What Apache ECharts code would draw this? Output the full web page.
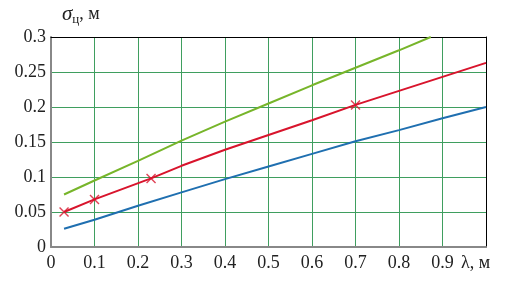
<!DOCTYPE html>
<html>
<head>
<meta charset="utf-8">
<script src="https://cdn.jsdelivr.net/npm/echarts@6/dist/echarts.min.js"></script>
<style>
  html, body { margin: 0; padding: 0; background: #fff; }
  #main { width: 505px; height: 286px; }
</style>
</head>
<body>
<div id="main"></div>
<script>
// данные
var blueX = [0.03, 0.1, 0.2, 0.3, 0.4, 0.5, 0.6, 0.7, 0.8, 0.9, 1.0];
var blueY = [0.026, 0.039, 0.059, 0.078, 0.097, 0.115, 0.133, 0.151, 0.167, 0.184, 0.2];
var redX = [0.03, 0.1, 0.23, 0.3, 0.4, 0.5, 0.6, 0.7, 0.8, 0.9, 1.0];
var redY = [0.05, 0.068, 0.098, 0.116, 0.139, 0.16, 0.181, 0.203, 0.223, 0.243, 0.263];
var markX = [0.03, 0.1, 0.23, 0.7];
var markY = [0.05, 0.068, 0.098, 0.203];
var greenX = [0.03, 0.1, 0.2, 0.3, 0.4, 0.5, 0.6, 0.7, 0.8, 0.873];
var greenY = [0.075, 0.095, 0.123, 0.152, 0.179, 0.205, 0.231, 0.256, 0.281, 0.3];
var xTicks = ['0', '0.1', '0.2', '0.3', '0.4', '0.5', '0.6', '0.7', '0.8', '0.9', ''];
var yTicks = ['0', '0.05', '0.1', '0.15', '0.2', '0.25', '0.3'];

function pairs(xs, ys) {
    return xs.map(function (x, i) { return [x, ys[i]]; });
}

var font = '"Liberation Serif", "DejaVu Serif", serif';
var gridGreen = '#3f9e5f';
var cross = 'path://M1,0L5,4L9,0L10,1L6,5L10,9L9,10L5,6L1,10L0,9L4,5L0,1Z';

var myChart = echarts.init(document.getElementById('main'));

function frameAxis(pos) {
    return {
        type: 'value', position: pos,
        min: 0, max: pos === 'top' ? 1 : 0.3,
        axisLine: { show: true, onZero: false, lineStyle: { color: '#000', width: 1 } },
        axisTick: { show: false }, axisLabel: { show: false }, splitLine: { show: false }
    };
}

var option = {
    animation: false,
    grid: { left: 51, right: 19, top: 37, bottom: 39 },
    xAxis: [{
        type: 'value', min: 0, max: 1, interval: 0.1,
        axisLine: { show: true, onZero: false, lineStyle: { color: '#888', width: 2 } },
        axisTick: { show: false },
        splitLine: { show: true, lineStyle: { color: gridGreen, width: 1 } },
        axisLabel: {
            color: '#222', fontFamily: font, fontSize: 18, margin: 7,
            formatter: function (v) { return xTicks[Math.round(v * 10)]; }
        }
    }, frameAxis('top')],
    yAxis: [{
        type: 'value', min: 0, max: 0.3, interval: 0.05,
        axisLine: { show: true, onZero: false, lineStyle: { color: '#888', width: 2 } },
        axisTick: { show: false },
        splitLine: { show: true, lineStyle: { color: gridGreen, width: 1 } },
        axisLabel: {
            color: '#222', fontFamily: font, fontSize: 18, margin: 5,
            formatter: function (v) { return yTicks[Math.round(v * 20)]; }
        }
    }, frameAxis('right')],
    graphic: [
        {
            type: 'text', left: 62, top: 4,
            style: {
                text: '{s|σ}{sub|ц}{n|, м}',
                fill: '#222',
                rich: {
                    s: { fontFamily: font, fontSize: 21, fontStyle: 'italic', fill: '#222' },
                    sub: { fontFamily: font, fontSize: 13, fill: '#222', verticalAlign: 'bottom', padding: [10, 0, 0, 0] },
                    n: { fontFamily: font, fontSize: 18, fill: '#222' }
                }
            }
        },
        {
            type: 'text', left: 461, top: 254,
            style: { text: 'λ, м', fontFamily: font, fontSize: 18, fill: '#222' }
        }
    ],
    series: [
        {
            type: 'line', data: pairs(blueX, blueY), showSymbol: false,
            lineStyle: { color: '#1f6fb0', width: 2 }
        },
        {
            type: 'line', data: pairs(redX, redY), showSymbol: false,
            lineStyle: { color: '#d8142c', width: 2 }
        },
        {
            type: 'line', data: pairs(greenX, greenY), showSymbol: false,
            lineStyle: { color: '#77b52a', width: 2 }
        },
        {
            type: 'scatter', data: pairs(markX, markY),
            symbol: cross, symbolSize: 10,
            itemStyle: { color: '#d8142c' }
        }
    ]
};

myChart.setOption(option);
</script>
</body>
</html>
